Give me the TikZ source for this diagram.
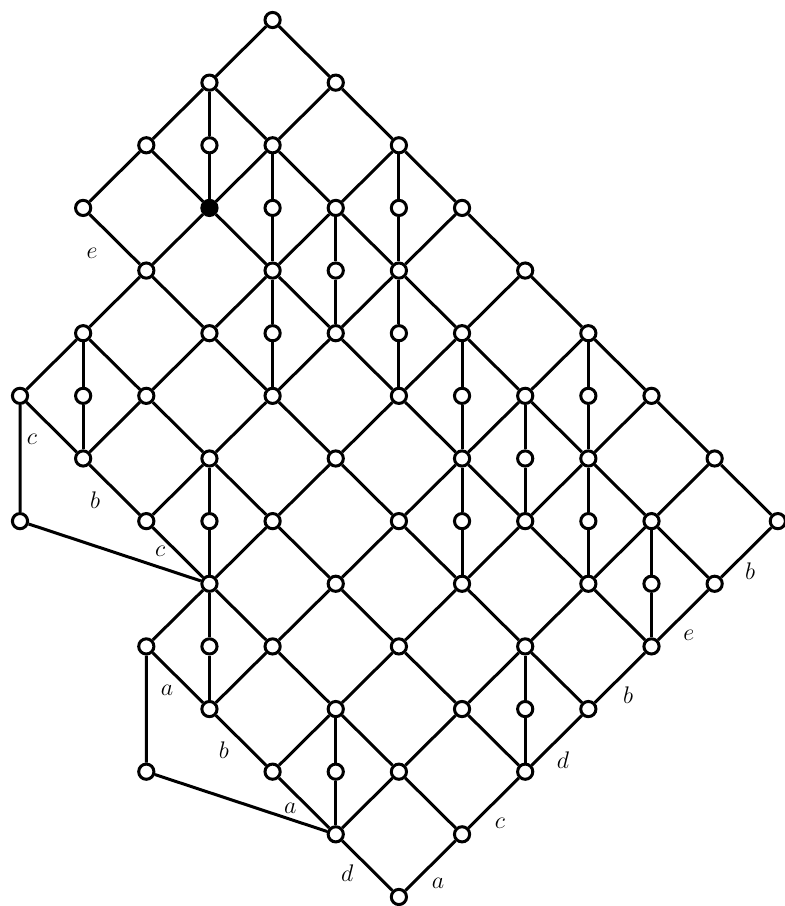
\documentclass[tikz,border=0pt]{standalone}
\usepackage{amsmath}
\usepackage{tikz}

\begin{document}
\begin{tikzpicture}[
  x=31.575pt, y=-31.32pt,
  font=\fontsize{12}{14}\selectfont,
  vert/.style={draw,circle,fill=white,line width=1.5pt,minimum size=7.6pt,inner sep=0pt},
  full/.style={vert,fill=black},
  edge/.style={line width=1.5pt}
]
\useasboundingbox (-10pt,10pt) rectangle (382.5pt,-443pt);

% lattice points, row by row
\foreach \r/\cs in {0/{4},1/{3,5},2/{2,4,6},3/{1,5,7},4/{2,4,6,8},5/{1,3,5,7,9},
  6/{0,2,4,6,8,10},7/{1,3,5,7,9,11},8/{2,4,6,8,10,12},9/{3,5,7,9,11},
  10/{2,4,6,8,10},11/{3,5,7,9},12/{4,6,8},13/{5,7},14/{6}}
  \foreach \c in \cs \node[vert] (n\c-\r) at (\c,\r) {};
\node[full] (n3-3) at (3,3) {};
\node[vert] (n0-8) at (0,8) {};
\node[vert] (n2-12) at (2,12) {};

% down-right
\draw[edge] (n4-0) -- (n5-1) -- (n6-2) -- (n7-3) -- (n8-4) -- (n9-5) -- (n10-6) -- (n11-7) -- (n12-8);
\draw[edge] (n3-1) -- (n4-2) -- (n5-3) -- (n6-4) -- (n7-5) -- (n8-6) -- (n9-7) -- (n10-8) -- (n11-9);
\draw[edge] (n2-2) -- (n3-3) -- (n4-4) -- (n5-5) -- (n6-6) -- (n7-7) -- (n8-8) -- (n9-9) -- (n10-10);
\draw[edge] (n1-3) -- (n2-4) -- (n3-5) -- (n4-6) -- (n5-7) -- (n6-8) -- (n7-9) -- (n8-10) -- (n9-11);
\draw[edge] (n1-5) -- (n2-6) -- (n3-7) -- (n4-8) -- (n5-9) -- (n6-10) -- (n7-11) -- (n8-12);
\draw[edge] (n0-6) -- (n1-7) -- (n2-8) -- (n3-9) -- (n4-10) -- (n5-11) -- (n6-12) -- (n7-13);
\draw[edge] (n2-10) -- (n3-11) -- (n4-12) -- (n5-13) -- (n6-14);
% down-left
\draw[edge] (n4-0) -- (n3-1) -- (n2-2) -- (n1-3);
\draw[edge] (n5-1) -- (n4-2) -- (n3-3) -- (n2-4) -- (n1-5) -- (n0-6);
\draw[edge] (n6-2) -- (n5-3) -- (n4-4) -- (n3-5) -- (n2-6) -- (n1-7);
\draw[edge] (n7-3) -- (n6-4) -- (n5-5) -- (n4-6) -- (n3-7) -- (n2-8);
\draw[edge] (n8-4) -- (n7-5) -- (n6-6) -- (n5-7) -- (n4-8) -- (n3-9) -- (n2-10);
\draw[edge] (n9-5) -- (n8-6) -- (n7-7) -- (n6-8) -- (n5-9) -- (n4-10) -- (n3-11);
\draw[edge] (n10-6) -- (n9-7) -- (n8-8) -- (n7-9) -- (n6-10) -- (n5-11) -- (n4-12);
\draw[edge] (n11-7) -- (n10-8) -- (n9-9) -- (n8-10) -- (n7-11) -- (n6-12) -- (n5-13);
\draw[edge] (n12-8) -- (n11-9) -- (n10-10) -- (n9-11) -- (n8-12) -- (n7-13) -- (n6-14);
% the two extra legs
\draw[edge] (n0-6) -- (n0-8) -- (n3-9);
\draw[edge] (n2-10) -- (n2-12) -- (n5-13);

% middle points on the vertical edges
\foreach \c/\r in {3/2,4/3,6/3,5/4,4/5,6/5,1/6,7/6,9/6,8/7,3/8,7/8,9/8,10/9,3/10,8/11,5/12} {
  \pgfmathtruncatemacro\ru{\r-1}
  \pgfmathtruncatemacro\rd{\r+1}
  \node[vert] (m\c-\r) at (\c,\r) {};
  \draw[edge] (n\c-\ru) -- (m\c-\r) -- (n\c-\rd);
}

% edge labels
\foreach \t/\x/\y [count=\i] in {e/1.14/3.72, c/0.19/6.70, b/1.19/7.66, c/2.22/8.49,
  a/2.33/10.70, b/3.23/11.65, a/4.28/12.58, d/5.18/13.62, a/6.62/13.78,
  c/7.60/12.82, d/8.60/11.81, b/9.63/10.78, e/10.59/9.82, b/11.56/8.80}
  \node (lab\i) at (\x,\y) {$\t$};
\end{tikzpicture}
\end{document}
